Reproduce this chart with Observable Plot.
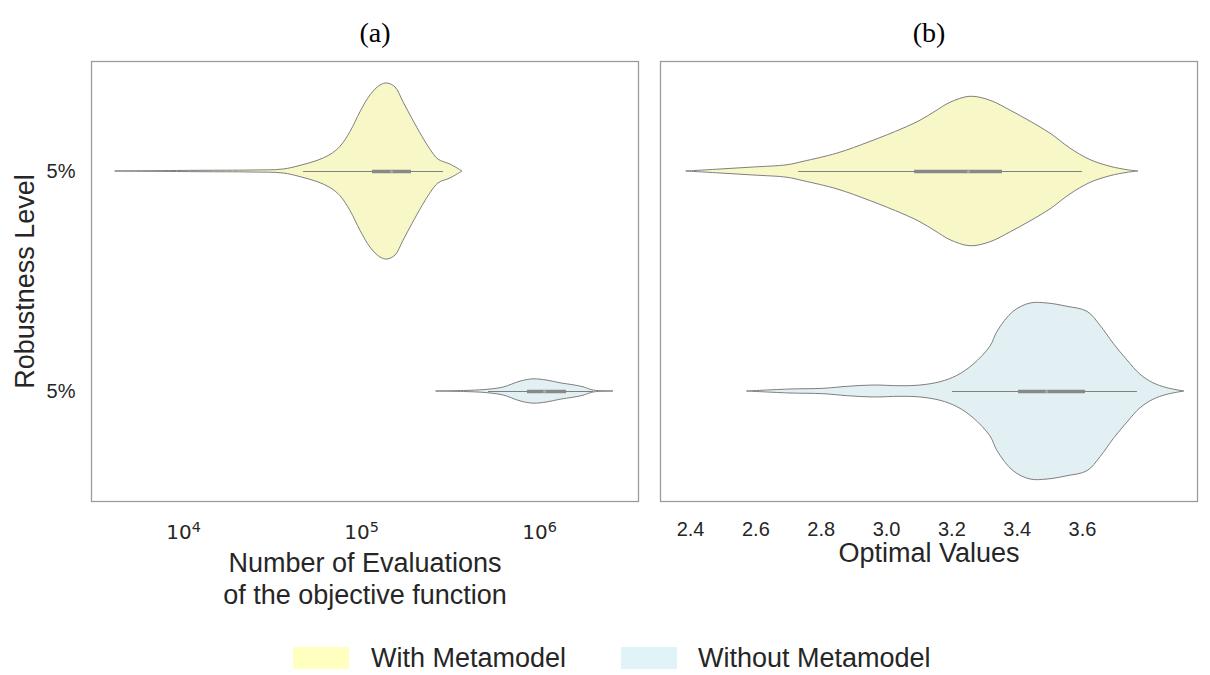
<!DOCTYPE html>
<html><head><meta charset="utf-8">
<script src="https://cdn.jsdelivr.net/npm/d3@7"></script>
<script src="https://cdn.jsdelivr.net/npm/@observablehq/plot@0.6"></script>
<style>
body{margin:0;background:#fff;}
#wrap{position:relative;width:1210px;height:675px;font-family:"Liberation Sans",Arial,sans-serif;color:#262626;background:#fff;}
.panel{position:absolute;top:0;}
.sw{position:absolute;top:647px;width:56px;height:22px;}
.lt{position:absolute;top:644px;font-size:27px;line-height:28px;white-space:nowrap;}
</style></head><body>
<div id="wrap">
<div id="pa" class="panel" style="left:0px"></div>
<div id="pb" class="panel" style="left:650px"></div>
</div>
<script>
// ---------- data ----------
const groups = ["With Metamodel", "Without Metamodel"];
const legendColors = ["#ffffbf", "#e0f3f8"];
const violinColors = ["#f7f7c7", "#e2f0f4"];
const yLabels = ["5%", "5%"];
const panelTitles = ["(a)", "(b)"];
const xTitles = ["Number of Evaluations\nof the objective function", "Optimal Values"];
const yTitle = "Robustness Level";
const evalTicks = [1e4, 1e5, 1e6];
const optTicks = [2.4, 2.6, 2.8, 3.0, 3.2, 3.4, 3.6];

// Panel (a): number of evaluations — violin profile (value, relative density)
const evalWithV = [4150, 12460, 23790, 36460, 45420, 56600, 66950, 76210, 86750, 98720, 112360, 127860, 140000, 155240, 172190, 193420, 220100, 244110, 270770, 316230, 369300];
const evalWithD = [0, 0.7, 1, 2, 5.7, 10.7, 16.7, 25, 40, 60, 77, 87, 89, 85, 70, 53, 35, 22, 12, 7, 0];
const evalWithoutV = [263800, 409700, 510500, 627600, 782100, 925300, 1108900, 1312200, 1552400, 1767000, 2010000, 2604000];
const evalWithoutD = [0, 0.7, 1.7, 4, 10, 12.3, 11, 8.3, 6.3, 4.3, 1, 0];
// box stats: [whisker low, q1, median, q3, whisker high]
const evalWithBox = [47220, 115300, 147400, 190900, 288800];
const evalWithoutBox = [517200, 856200, 1067000, 1418000, 2010000];

// Panel (b): optimal values
const optWithV = [2.388, 2.492, 2.593, 2.697, 2.746, 2.850, 2.951, 3.052, 3.104, 3.150, 3.196, 3.257, 3.318, 3.380, 3.441, 3.502, 3.563, 3.624, 3.686, 3.738, 3.771];
const optWithD = [0, 2, 4, 6.3, 9.7, 18, 29.7, 43, 51, 60, 69, 75, 71, 61, 50, 38, 23, 11.5, 4.7, 1.3, 0];
const optWithoutV = [2.574, 2.706, 2.807, 2.881, 2.960, 3.043, 3.104, 3.165, 3.217, 3.266, 3.318, 3.340, 3.389, 3.441, 3.493, 3.554, 3.615, 3.655, 3.695, 3.738, 3.777, 3.817, 3.860, 3.912];
const optWithoutD = [0, 2, 2.7, 4.7, 6, 5.3, 6, 9.3, 15.7, 26.7, 45, 60, 80, 88.3, 88.3, 85, 80, 66, 48, 31, 17, 8.3, 3.3, 0];
const optWithBox = [2.731, 3.086, 3.251, 3.355, 3.600];
const optWithoutBox = [3.202, 3.404, 3.490, 3.609, 3.768];

// ---------- helpers ----------
const lineGray = "#7f7f7f";
function profile(vals, dens, pos, k) {
  return vals.map((v, i) => ({v, y1: pos - dens[i] * k, y2: pos + dens[i] * k}));
}
function violinMarks(vals, dens, box, pos, k, color) {
  return [
    Plot.areaY(profile(vals, dens, pos, k), {x: "v", y1: "y1", y2: "y2", curve: "catmull-rom", fill: color, stroke: lineGray, strokeWidth: 1}),
    Plot.ruleY([{y: pos, x1: box[0], x2: box[4]}], {y: "y", x1: "x1", x2: "x2", stroke: lineGray, strokeWidth: 1}),
    Plot.ruleY([{y: pos, x1: box[1], x2: box[3]}], {y: "y", x1: "x1", x2: "x2", stroke: "#888888", strokeWidth: 3.5}),
    Plot.dot([{x: box[2], y: pos}], {x: "x", y: "y", r: 1.6, fill: "#a8a8a8"})
  ];
}
const logFmt = d => "10^" + Math.round(Math.log10(d));
const baseStyle = {fontFamily: "'Liberation Sans', Arial, sans-serif", fontSize: "20px", color: "#262626", background: "white", overflow: "visible"};

// ---------- panel (a) ----------
const kA = 0.4 / Math.max(...evalWithD, ...evalWithoutD);
const plotA = Plot.plot({
  width: 650, height: 620,
  marginLeft: 91, marginRight: 12, marginTop: 61, marginBottom: 119,
  style: baseStyle,
  x: {type: "log", domain: [3042, 3.598e6]},
  y: {domain: [1.5, -0.5]},
  marks: [
    ...violinMarks(evalWithV, evalWithD, evalWithBox, 0, kA, violinColors[0]),
    ...violinMarks(evalWithoutV, evalWithoutD, evalWithoutBox, 1, kA, violinColors[1]),
    Plot.frame({stroke: "#999999", strokeWidth: 1.25}),
    Plot.axisX(evalTicks, {tickSize: 0, tickPadding: 23, tickFormat: logFmt, fontSize: 20, fontFamily: "'DejaVu Sans', sans-serif", label: null}),
    Plot.axisY([0, 1], {tickSize: 0, tickPadding: 16, tickFormat: i => yLabels[i], fontSize: 20, label: null}),
    Plot.text([panelTitles[0]], {frameAnchor: "top", dx: 10, dy: -39, fontSize: 28, fontFamily: "'Liberation Serif', 'Times New Roman', serif", fill: "#000"}),
    Plot.text([xTitles[0]], {frameAnchor: "bottom", dy: 47, lineAnchor: "top", lineHeight: 1.2, fontSize: 27}),
    Plot.text([yTitle], {frameAnchor: "left", textAnchor: "middle", dx: -66, rotate: -90, fontSize: 27})
  ]
});
// render "10^n" tick labels with a raised exponent
d3.select(plotA).selectAll("text").each(function() {
  const m = /^10\^(\d+)$/.exec(this.textContent);
  if (!m) return;
  const t = d3.select(this);
  t.text("10");
  t.append("tspan").attr("dy", "-0.5em").attr("font-size", "0.72em").text(m[1]);
});
document.getElementById("pa").appendChild(plotA);

// ---------- panel (b) ----------
const kB = 0.4 / Math.max(...optWithD, ...optWithoutD);
const plotB = Plot.plot({
  width: 560, height: 620,
  marginLeft: 10, marginRight: 13, marginTop: 61, marginBottom: 119,
  style: baseStyle,
  x: {domain: [2.308, 3.952]},
  y: {domain: [1.5, -0.5], axis: null},
  marks: [
    ...violinMarks(optWithV, optWithD, optWithBox, 0, kB, violinColors[0]),
    ...violinMarks(optWithoutV, optWithoutD, optWithoutBox, 1, kB, violinColors[1]),
    Plot.frame({stroke: "#999999", strokeWidth: 1.25}),
    Plot.axisX(optTicks, {tickSize: 0, tickPadding: 20, tickFormat: d3.format(".1f"), fontSize: 20, label: null}),
    Plot.text([panelTitles[1]], {frameAnchor: "top", dy: -39, fontSize: 28, fontFamily: "'Liberation Serif', 'Times New Roman', serif", fill: "#000"}),
    Plot.text([xTitles[1]], {frameAnchor: "bottom", dy: 41, lineAnchor: "top", fontSize: 27})
  ]
});
document.getElementById("pb").appendChild(plotB);

// ---------- legend ----------
const wrap = document.getElementById("wrap");
const legendPos = [{sw: 293, tx: 371}, {sw: 621, tx: 698}];
groups.forEach((g, i) => {
  const s = document.createElement("div");
  s.className = "sw"; s.style.left = legendPos[i].sw + "px"; s.style.background = legendColors[i];
  wrap.appendChild(s);
  const t = document.createElement("div");
  t.className = "lt"; t.style.left = legendPos[i].tx + "px"; t.textContent = g;
  wrap.appendChild(t);
});
</script>
</body></html>
